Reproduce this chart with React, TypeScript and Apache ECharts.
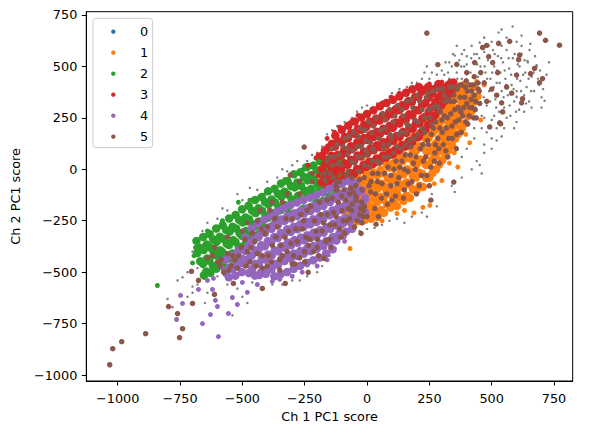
import React, { useEffect, useRef } from "react";
import * as echarts from "echarts";

// ---- tick values ----
const xTicks = [-1000, -750, -500, -250, 0, 250, 500, 750];
const yTicks = [-1000, -750, -500, -250, 0, 250, 500, 750];
const legendNames = ["0", "1", "2", "3", "4", "5"];

// ---- unlabeled (gray) points ----
const unlabeled: number[][] = [
  [300,420],[310,460],[320,380],[330,440],[340,500],[345,350],[350,410],[360,470],[365,330],[370,530],[375,390],[380,440],[385,300],[390,500],[395,360],[400,550],[405,420],[410,280],[415,470],[420,340],[425,520],[430,390],[435,300],[440,560],[445,450],[450,350],[455,500],[460,260],[465,410],[470,570],[475,470],[480,310],[485,530],[490,380],[495,440],[500,240],[505,580],[510,500],[515,340],[520,420],[525,550],[530,280],[535,470],[540,380],[545,520],[550,300],[555,440],[560,580],[565,360],[570,490],[575,260],[580,410],[585,540],[590,330],[595,460],[600,380],[605,510],[610,290],[615,430],[620,560],[630,360],[635,470],[640,400],[645,520],[650,330],[660,450],[670,380],[680,500],[690,410],[700,350],[712,333],[584,694],[528,665],[452,616],[352,553],[644,526],[680,506],[600,352],[560,640],[620,600],[500,620],[420,600],[470,640],[540,600],[390,580],[360,600],[400,510],[450,540],[330,360],[320,300],[340,270],[420,250],[380,220],[460,200],[480,180],[520,200],[560,250],[600,230],[540,160],[452,21],[352,-110],[400,100],[430,150],[470,120],[500,150],[380,60],[420,0],[300,-50],[260,-120],[220,-210],[180,-230],[120,-240],[60,-270],[0,-290],[-60,-300],[-120,-330],[-180,-470],[-240,-520],[-300,-540],[-380,-560],[-460,-550],[-500,-620],[-560,-560],[-640,-600],[-700,-600],[-760,-540],[-740,-525],[-700,-570],[-800,-630],[-780,-670],[-650,-650],[-540,-710],[-620,-350],[-660,-300],[-600,-240],[-560,-200],[-500,-150],[-440,-100],[-360,-40],[-320,-10],[-300,20],[-240,40],[-200,80],[-180,110],[-140,190],[-90,230],[-40,280],[0,310],[40,320],[100,370],[160,400],[200,420],[250,440],[280,460],[230,470],
  [305,330],[315,520],[325,470],[335,400],[345,560],[355,300],[362,440],[372,360],[378,500],[388,420],[398,320],[402,470],[412,380],[418,540],[428,450],[438,360],[442,510],[452,420],[458,590],[468,350],[472,500],[482,440],[488,600],[494,330],[502,470],[508,400],[512,560],[518,300],[522,480],[532,420],[538,540],[548,350],[552,480],[558,410],[568,540],[572,310],[578,460],[588,390],[592,560],[598,280],[602,440],[612,500],[618,380],[626,460],[632,530],[638,320],[648,440],[652,580],[658,380],[668,470],[674,550],[686,440],[694,480],[706,390],[720,460],[730,520],[655,610],[600,620],[620,650],[540,680],[475,600],[430,560],[380,560],[330,520],[300,480],[285,400],[290,340],[340,220],[360,260],[430,200],[470,250],[510,260],[550,200],[590,200],[630,280],[660,300],[700,300],[470,80],[500,100],[520,140],[440,40],[460,-20],[380,-40],[340,-80],[280,-180],[240,-230],[150,-260],[90,-250],[30,-285],[-30,-300],[-90,-340],[-150,-420],[-200,-500],[-270,-540],[-340,-560],[-420,-580],[-480,-650],[-520,-580],[-600,-520],[-680,-560],[-720,-620],[-720,-500],[-680,-480],[-660,-460],[-700,-400],[-640,-260],[-580,-190],[-520,-120],[-470,-90],[-400,-60],[-340,0],[-280,40],[-220,70],[-160,170],[-120,210],[-60,250],[-20,300],[60,330],[130,390],[180,420],[220,440],[260,470],[240,500]
];

// ---- cluster 0 (blue) ----
const cluster0: number[][] = [[24,232],[-160,99],[-260,-3],[-648,-384],[-592,-423]];

// ---- cluster 1 (orange) ----
const cluster1Core: number[][] = [
  [-90,-236],[-76,-205],[-84,-171],[-79,-140],[-88,-112],
  [-61,-266],[-50,-233],[-58,-200],[-47,-172],[-63,-138],[-52,-103],[-57,-75],[-49,-40],
  [-36,-251],[-22,-222],[-31,-195],[-38,-158],[-24,-130],[-33,-99],[-27,-64],[-40,-35],[-21,-2],
  [-10,-247],[3,-226],[-12,-190],[-1,-159],[-8,-119],[4,-92],[-13,-60],[-2,-22],[-9,5],[2,35],
  [16,-240],[29,-208],[14,-183],[27,-144],[18,-117],[31,-80],[13,-55],[26,-18],[17,17],[30,38],
  [42,-231],[55,-197],[40,-159],[53,-133],[44,-93],[57,-69],[41,-30],[54,-4],[43,35],[56,58],
  [68,-212],[81,-172],[66,-147],[79,-108],[70,-84],[84,-44],[65,-19],[80,21],[69,43],[82,86],
  [94,-186],[107,-161],[92,-122],[106,-98],[96,-58],[109,-33],[91,8],[105,29],[95,71],[108,92],
  [120,-179],[133,-138],[119,-113],[132,-74],[121,-50],[135,-10],[117,15],[131,54],[120,78],[134,118],
  [146,-153],[159,-128],[144,-88],[158,-64],[147,-24],[161,0],[143,40],[157,64],[146,104],[160,128],
  [172,-139],[185,-98],[170,-74],[184,-34],[173,-10],[187,30],[169,54],[183,94],[172,118],[186,158],
  [198,-104],[211,-80],[196,-40],[210,-16],[199,24],[213,48],[195,88],[209,112],[198,152],[212,176],
  [224,-86],[237,-42],[222,-22],[236,22],[225,42],[239,86],[221,106],[235,150],[224,170],[238,216],
  [250,-41],[263,-17],[248,23],[262,47],[251,87],[265,111],[247,151],[261,175],[250,215],[264,241],
  [276,-1],[289,23],[274,63],[288,87],[277,127],[291,151],[273,191],[287,215],[276,255],[290,281],
  [302,44],[315,68],[300,108],[314,132],[303,172],[317,196],[299,236],[313,260],[302,300],[316,326],
  [328,94],[341,118],[326,158],[340,182],[329,222],[343,246],[325,286],[339,310],[328,350],[342,374],
  [354,149],[367,173],[352,213],[366,237],[355,277],[369,301],[351,341],[365,365],[354,396],
  [380,199],[393,223],[378,263],[392,287],[381,327],[395,351],[377,381],[391,411],
  [406,259],[419,283],[404,323],[418,347],[407,387],
  [430,329],[443,356],[429,401]
];
const cluster1Sparse: number[][] = [
  [224,-185],[252,-175],[188,-212],[-68,-385],[364,11],[412,129],[330,30],[300,-55],[-100,-275],[456,240],[470,410],[440,427],[20,-208],[120,-215],[150,-200],[-16,-248],[396,170],[350,80],[270,-70],[60,-250]
];

// ---- cluster 2 (green) ----
const cluster2Core: number[][] = [
  [-684,-348],[-670,-381],[-681,-407],[-669,-447],
  [-657,-329],[-643,-366],[-655,-392],[-641,-433],[-658,-459],[-645,-497],[-654,-515],
  [-631,-315],[-617,-341],[-629,-380],[-615,-404],[-632,-445],[-618,-470],[-628,-503],
  [-605,-288],[-591,-328],[-603,-352],[-589,-393],[-606,-418],[-592,-458],[-604,-483],
  [-579,-272],[-565,-296],[-577,-338],[-563,-361],[-580,-403],[-566,-426],[-578,-468],[-563,-485],
  [-553,-239],[-539,-279],[-551,-303],[-537,-344],[-554,-368],[-540,-409],[-552,-433],[-538,-470],
  [-527,-222],[-513,-246],[-525,-288],[-511,-311],[-528,-353],[-514,-376],[-526,-418],[-512,-442],
  [-501,-194],[-487,-234],[-499,-258],[-485,-299],[-502,-323],[-488,-364],[-500,-388],
  [-475,-177],[-461,-201],[-473,-243],[-459,-266],[-476,-308],[-462,-331],
  [-449,-149],[-435,-189],[-447,-213],[-433,-254],[-450,-278],[-436,-316],
  [-423,-135],[-409,-159],[-421,-201],[-407,-224],[-424,-266],[-410,-288],
  [-397,-107],[-383,-147],[-395,-171],[-381,-212],[-398,-236],[-384,-279],
  [-371,-95],[-357,-119],[-369,-161],[-355,-184],[-372,-226],[-358,-251],
  [-345,-69],[-331,-109],[-343,-133],[-329,-174],[-346,-198],[-332,-244],
  [-319,-57],[-305,-81],[-317,-123],[-303,-146],[-320,-188],[-306,-221],
  [-293,-24],[-279,-64],[-291,-88],[-277,-129],[-294,-153],[-280,-214],
  [-267,-14],[-253,-38],[-265,-80],[-251,-103],[-268,-145],[-254,-191],
  [-241,10],[-227,-30],[-239,-54],[-225,-95],[-242,-119],[-228,-184],
  [-215,18],[-201,-6],[-213,-48],[-199,-71],[-216,-113],[-202,-161],
  [-189,40],[-175,0],[-187,-24],[-173,-65],[-190,-89],[-176,-154],
  [-163,44],[-149,20],[-161,-22],[-147,-45],[-164,-87],[-150,-131],
  [-137,60],[-123,20],[-135,-4],[-121,-45],[-138,-69],[-124,-116],
  [-111,58],[-97,34],[-109,-8],[-95,-31],[-112,-73]
];
const cluster2Sparse: number[][] = [
  [-96,100],[-84,140],[-841,-565],[-652,-525],[-516,-160],[-416,-126],[-688,-380],[-694,-420],[-700,-455],[-640,-300],[-580,-250],[-470,-150],[-330,-50],[-250,15]
];

// ---- cluster 3 (red) ----
const cluster3Core: number[][] = [
  [-182,-62],[-170,-38],[-181,1],[-168,26],[-180,66],[-169,91],
  [-157,-88],[-144,-64],[-155,-23],[-142,1],[-156,42],[-143,66],[-154,106],[-141,124],
  [-131,-82],[-118,-58],[-129,-18],[-116,6],[-130,47],[-117,71],[-128,111],[-115,136],[-127,164],
  [-105,-63],[-92,-38],[-103,2],[-90,27],[-104,67],[-91,92],[-102,132],[-89,157],[-101,192],
  [-79,-43],[-66,-18],[-77,22],[-64,47],[-78,87],[-65,112],[-76,152],[-63,177],[-75,212],
  [-53,-23],[-40,2],[-51,42],[-38,67],[-52,107],[-39,132],[-50,172],[-37,197],[-49,232],
  [-27,-3],[-14,22],[-25,62],[-12,87],[-26,127],[-13,152],[-24,192],[-11,217],[-23,252],
  [-1,12],[12,37],[1,77],[14,102],[0,142],[13,167],[-2,207],[11,232],[0,269],
  [25,27],[38,52],[27,92],[40,117],[26,157],[39,182],[24,222],[37,247],[26,287],
  [51,42],[64,67],[53,107],[66,132],[52,172],[65,197],[50,237],[63,262],[52,306],
  [77,57],[90,82],[79,122],[92,147],[78,187],[91,212],[76,252],[89,277],[78,322],
  [103,72],[116,97],[105,137],[118,162],[104,202],[117,227],[102,267],[115,292],[104,338],
  [129,92],[142,117],[131,157],[144,182],[130,222],[143,247],[128,287],[141,312],[130,354],
  [155,112],[168,137],[157,177],[170,202],[156,242],[169,267],[154,307],[167,332],[156,372],
  [181,132],[194,157],[183,197],[196,222],[182,262],[195,287],[180,327],[193,352],[182,389],
  [207,157],[220,182],[209,222],[222,247],[208,287],[221,312],[206,352],[219,377],[208,400],
  [233,192],[246,217],[235,257],[248,282],[234,322],[247,347],[232,387],[245,400],
  [259,237],[272,262],[261,302],[274,327],[260,367],[273,392],
  [285,287],[298,312],[287,352],[300,377],[286,414],
  [311,332],[324,357],[313,397],[326,410],
  [337,372],[350,396],[346,422]
];
const cluster3Sparse: number[][] = [
  [-68,226],[-36,262],[26,290],[96,350],[160,380],[204,405],[-160,150],[-196,70],[-236,20],[-205,55],[300,424],[332,428],[-130,180],[-60,235],[-196,-30],[-110,205],[60,320],[130,370],[250,415]
];

// ---- cluster 4 (purple) ----
const cluster4Core: number[][] = [
  [-567,-440],[-553,-479],[-565,-504],[-554,-525],
  [-541,-420],[-527,-460],[-539,-485],[-528,-517],
  [-515,-394],[-501,-434],[-513,-459],[-502,-499],
  [-489,-331],[-475,-371],[-487,-396],[-476,-436],[-488,-461],[-474,-504],
  [-463,-289],[-449,-329],[-461,-354],[-450,-394],[-462,-419],[-448,-459],[-460,-484],[-450,-516],
  [-437,-264],[-423,-304],[-435,-329],[-424,-369],[-436,-394],[-422,-434],[-434,-459],[-424,-499],[-433,-514],
  [-411,-244],[-397,-284],[-409,-309],[-398,-349],[-410,-374],[-396,-414],[-408,-439],[-397,-479],[-406,-508],
  [-385,-224],[-371,-264],[-383,-289],[-372,-329],[-384,-354],[-370,-394],[-382,-419],[-371,-459],[-383,-486],[-372,-520],
  [-359,-204],[-345,-244],[-357,-269],[-346,-309],[-358,-334],[-344,-374],[-356,-399],[-345,-439],[-357,-464],[-346,-509],
  [-333,-186],[-319,-226],[-331,-251],[-320,-291],[-332,-316],[-318,-356],[-330,-381],[-319,-421],[-331,-446],[-320,-499],
  [-307,-174],[-293,-214],[-305,-239],[-294,-279],[-306,-304],[-292,-344],[-304,-369],[-293,-409],[-305,-434],[-294,-484],
  [-281,-162],[-267,-202],[-279,-227],[-268,-267],[-280,-292],[-266,-332],[-278,-357],[-267,-397],[-279,-422],[-268,-469],
  [-255,-150],[-241,-190],[-253,-215],[-242,-255],[-254,-280],[-240,-320],[-252,-345],[-241,-385],[-253,-410],[-242,-454],
  [-229,-138],[-215,-178],[-227,-203],[-216,-243],[-228,-268],[-214,-308],[-226,-333],[-215,-373],[-227,-398],[-216,-442],
  [-203,-126],[-189,-166],[-201,-191],[-190,-231],[-202,-256],[-188,-296],[-200,-321],[-189,-361],[-201,-386],[-190,-429],
  [-177,-113],[-163,-153],[-175,-178],[-164,-218],[-176,-243],[-162,-283],[-174,-308],[-163,-348],[-175,-373],[-164,-409],
  [-151,-94],[-137,-134],[-149,-159],[-138,-199],[-150,-224],[-136,-264],[-148,-289],[-137,-329],[-149,-354],[-138,-389],
  [-125,-78],[-111,-118],[-123,-143],[-112,-183],[-124,-208],[-110,-248],[-122,-273],[-111,-313],[-123,-346],
  [-99,-68],[-85,-108],[-97,-133],[-86,-173],[-98,-198],[-84,-238],[-96,-263],[-85,-303],[-97,-321],
  [-73,-58],[-59,-98],[-71,-123],[-60,-163],[-72,-188],[-58,-228],[-70,-253],[-60,-289],
  [-47,-68],[-33,-108],[-45,-133],[-34,-173],[-46,-198],[-32,-244],
  [-21,-101],[-7,-141],[-19,-166],[-8,-209]
];
const cluster4Sparse: number[][] = [
  [-748,-613],[-740,-652],[-764,-730],[-660,-750],[-596,-813],[-628,-706],[-676,-584],[-620,-584],[-600,-667],[-556,-701],[-520,-657],[-540,-623],[-480,-598],[-500,-550],[-616,-530],[-640,-540],[-608,-637],[-440,-560],[-380,-545],[-300,-520],[-200,-470],[-136,-392],[-240,-465],[-580,-480],[-350,-535],[-260,-500],[-160,-440],[-90,-350]
];

// ---- cluster 5 (brown) ----
const cluster5: number[][] = [
  [-148,-20],[-132,60],[-120,120],[-110,-60],[-105,20],[-140,100],
  [-88,150],[-80,70],[-76,-10],[-70,-120],[-62,-200],[-55,180],[-50,30],[-45,-80],[-40,110],
  [-28,200],[-22,-160],[-18,60],[-12,-40],[-5,140],[0,-230],[5,230],[10,10],[15,-110],[18,180],
  [28,90],[32,-190],[38,250],[42,-60],[48,150],[52,30],[58,-140],[62,270],[66,100],[70,-20],[74,200],
  [82,-170],[86,60],[90,290],[95,-80],[98,150],[104,230],[108,0],[114,-130],[118,110],[122,310],[128,-40],
  [136,180],[140,40],[145,260],[150,-100],[154,120],[158,330],[164,-10],[170,210],[174,70],[180,-60],[184,300],
  [190,150],[194,0],[200,360],[205,230],[210,-80],[214,100],[220,290],[226,40],[232,180],[238,350],[240,-30],
  [246,120],[252,250],[256,10],[262,380],[266,200],[272,80],[278,310],[284,150],[290,30],[296,390],[300,240],
  [306,120],[312,330],[318,200],[324,60],[330,400],[336,270],[342,150],[348,360],[354,230],[358,100],
  [366,300],[372,410],[378,180],[384,260],[392,350],[398,430],[404,220],[412,300],[420,380],[428,250],[436,330],[444,420],
  [-160,40],[-135,-40],[-118,30],[-96,110],[-84,-30],[-72,160],[-66,-90],[-58,90],[-44,-150],[-36,160],[-30,-50],[-24,110],[-14,-200],[-8,190],[2,70],[8,-80],[14,130],[22,-20],[26,210],[34,-120],[40,40],[46,-230],[54,190],[60,-70],[64,120],[72,240],[78,-120],[84,10],[92,170],[100,-150],[106,80],[112,260],[120,-70],[126,170],[132,10],[140,290],[146,-140],[152,70],[160,220],[166,-70],[172,140],[178,340],[186,30],[192,240],[198,-120],[204,170],[212,330],[218,-30],[224,120],[230,250],[236,60],[244,370],[250,-80],[258,170],[264,300],[270,40],[276,230],[282,390],[288,100],[294,280],[302,180],[308,360],[316,90],[322,250],[328,150],[334,330],[340,210],[346,400],[352,290],[360,170],[368,240],[374,350],[380,410],[388,300],[396,230],[402,380],[410,260],[418,340],[426,410],[434,290],[-120,-100],[-150,60],[-102,-130],
  [-170,-50],[-125,-80],[-112,70],[-92,-100],[-64,40],[-34,-10],[-20,-100],[-4,90],[20,40],[44,-20],[68,60],[88,120],[96,-30],[116,40],[138,100],[150,0],[156,180],[176,110],[196,60],[222,200],[242,140],[248,290],[260,220],[274,120],[286,300],[292,200],[304,390],[310,260],[326,340],[350,330],[362,390],[376,280],[394,400],[400,320],[414,410],[422,300],[430,360],[438,250],[446,390],[452,320],[-140,20],[-78,100],[-60,-40],[-38,60],[-10,20],[16,-60],[24,100],
  [348,-62],[256,-150],[36,-267],[-24,-311],
  [240,662],[692,662],[716,627],[772,603],[572,622],[528,612],[480,602],[464,592],[612,555],[608,533],[672,490],[656,465],[704,441],[692,421],[624,343],[620,323],[600,458],[488,548],[504,519],[524,470],[540,323],[544,279],[532,226],[492,206],[432,519],[360,510],[284,509],[536,221],[456,470],[470,420],[500,390],[560,400],[580,370],[520,360],[450,380],[480,330],[400,470],[430,450],
  [-640,-430],[-610,-380],[-590,-470],[-560,-330],[-540,-420],[-520,-480],[-500,-300],[-480,-400],[-470,-450],[-450,-350],[-440,-250],[-420,-420],[-410,-310],[-400,-470],[-390,-200],[-380,-370],[-360,-280],[-350,-440],[-340,-160],[-330,-330],[-320,-400],[-300,-240],[-290,-460],[-280,-350],[-270,-120],[-260,-290],[-250,-400],[-240,-200],[-230,-340],[-220,-60],[-210,-250],[-200,-380],[-190,-160],[-180,-300],[-170,-20],[-160,-220],[-150,-340],[-140,-140],[-130,-270],[-120,-60],[-100,-200],[-90,-310],[-80,-250],[-60,-170],[-50,-280],[-30,-220],[-20,-260],[-10,-180],
  [-600,-450],[-575,-500],[-545,-470],[-515,-420],[-490,-340],[-465,-380],[-445,-470],[-425,-290],[-395,-420],[-370,-240],[-345,-370],[-315,-300],[-295,-420],[-265,-220],[-245,-330],[-215,-400],[-185,-220],[-165,-350],[-135,-210],[-110,-290],[-85,-150],[-70,-240],[-45,-130],[-25,-190],
  [-620,-420],[-585,-440],[-555,-490],[-530,-440],[-505,-380],[-485,-470],[-460,-310],[-440,-410],[-420,-480],[-400,-280],[-385,-450],[-365,-330],[-340,-420],[-325,-240],[-305,-360],[-285,-290],[-270,-430],[-255,-250],[-235,-370],[-225,-180],[-205,-300],[-195,-420],[-175,-260],[-160,-150],[-145,-380],[-125,-230],[-105,-330],[-95,-250],[-75,-190],[-55,-110],[-40,-250],[-15,-230],[-350,-490],[-300,-460],[-250,-450],[-200,-340],[-150,-270],[-115,-160],
  [-560,-410],[-480,-260],[-430,-200],[-380,-160],[-320,-120],[-270,-60],[-220,-20],
  [-1032,-950],[-1020,-872],[-984,-838],[-888,-799],[-752,-818],[-740,-775],[-760,-701],[-796,-667],[-700,-652],[-704,-496],[-676,-540],[-612,-608],[-536,-555],[-420,-579],[-328,-555],[-236,-501],[-172,-433],[-252,108],[-308,-28]
];

const COLORS = ["#1f77b4", "#ff7f0e", "#2ca02c", "#d62728", "#9467bd", "#8c564b"];
const GRAY = "#7f7f7f";
const FONT = "DejaVu Sans";

const fmt = (v: number) => (v < 0 ? "\u2212" + Math.abs(v) : String(v));

function scatter(name: string, data: number[][], color: string, size: number) {
  return {
    type: "scatter",
    name,
    data,
    symbol: "circle",
    symbolSize: size,
    itemStyle: { color, opacity: 1 },
    silent: true,
    emphasis: { disabled: true },
  };
}

// legend box layout (pixels)
const LEG_X = 93, LEG_Y = 18.3, LEG_W = 59.7, LEG_H = 129.4;
const LEG_MARK_X = 113.3, LEG_TEXT_X = 140, LEG_ROW0 = 31.7, LEG_ROW_GAP = 21;

export default function App() {
  const ref = useRef<HTMLDivElement>(null);
  useEffect(() => {
    if (!ref.current) return;
    const chart = echarts.init(ref.current, null, { renderer: "svg" });
    const legendGraphic: any[] = [
      {
        type: "rect",
        z: 10,
        silent: true,
        shape: { x: LEG_X, y: LEG_Y, width: LEG_W, height: LEG_H, r: 3 },
        style: { fill: "rgba(255,255,255,0.8)", stroke: "#cccccc", lineWidth: 1 },
      },
    ];
    legendNames.forEach((n, i) => {
      legendGraphic.push({
        type: "circle",
        z: 11,
        silent: true,
        shape: { cx: LEG_MARK_X, cy: LEG_ROW0 + LEG_ROW_GAP * i, r: 2.2 },
        style: { fill: COLORS[i] },
      });
      legendGraphic.push({
        type: "text",
        z: 11,
        silent: true,
        x: LEG_TEXT_X,
        y: LEG_ROW0 + LEG_ROW_GAP * i,
        style: {
          text: n,
          fill: "#000",
          fontFamily: FONT,
          fontSize: 12.8,
          align: "left",
          verticalAlign: "middle",
        },
      });
    });
    chart.setOption({
      animation: false,
      backgroundColor: "#ffffff",
      textStyle: { fontFamily: FONT },
      grid: {
        left: 86.3,
        right: 19.3,
        top: 11.7,
        bottom: 53,
        show: true,
        borderColor: "#000",
        borderWidth: 1,
        backgroundColor: "transparent",
      },
      graphic: legendGraphic,
      xAxis: {
        type: "value",
        min: -1126,
        max: 825,
        name: "Ch 1 PC1 score",
        nameLocation: "middle",
        nameGap: 29,
        nameTextStyle: { fontFamily: FONT, fontSize: 12.8, color: "#000" },
        axisLine: { show: true, onZero: false, lineStyle: { color: "#000", width: 1 } },
        axisTick: { show: true, length: 4.5, customValues: xTicks, lineStyle: { color: "#000" } },
        axisLabel: {
          customValues: xTicks,
          formatter: fmt,
          margin: 11,
          fontFamily: FONT,
          fontSize: 12.8,
          color: "#000",
        },
        splitLine: { show: false },
      },
      yAxis: {
        type: "value",
        min: -1029,
        max: 766,
        name: "Ch 2 PC1 score",
        nameLocation: "middle",
        nameGap: 64.5,
        nameTextStyle: { fontFamily: FONT, fontSize: 12.8, color: "#000" },
        axisLine: { show: true, onZero: false, lineStyle: { color: "#000", width: 1 } },
        axisTick: { show: true, length: 4.5, customValues: yTicks, lineStyle: { color: "#000" } },
        axisLabel: {
          customValues: yTicks,
          formatter: fmt,
          margin: 9,
          fontFamily: FONT,
          fontSize: 12.8,
          color: "#000",
        },
        splitLine: { show: false },
      },
      series: [
        scatter("unlabeled", unlabeled, GRAY, 2.5),
        scatter("0", cluster0, COLORS[0], 5),
        scatter("1", cluster1Core, COLORS[1], 8.5),
        scatter("1", cluster1Sparse, COLORS[1], 5),
        scatter("2", cluster2Core, COLORS[2], 8.5),
        scatter("2", cluster2Sparse, COLORS[2], 5),
        scatter("3", cluster3Core, COLORS[3], 8.5),
        scatter("3", cluster3Sparse, COLORS[3], 5),
        scatter("4", cluster4Core, COLORS[4], 8.5),
        scatter("4", cluster4Sparse, COLORS[4], 5),
        scatter("5", cluster5, COLORS[5], 5.5),
      ],
    });
    return () => chart.dispose();
  }, []);
  return (
    <div
      ref={ref}
      style={{ position: "fixed", left: 0, top: 0, width: 592, height: 434 }}
    />
  );
}
